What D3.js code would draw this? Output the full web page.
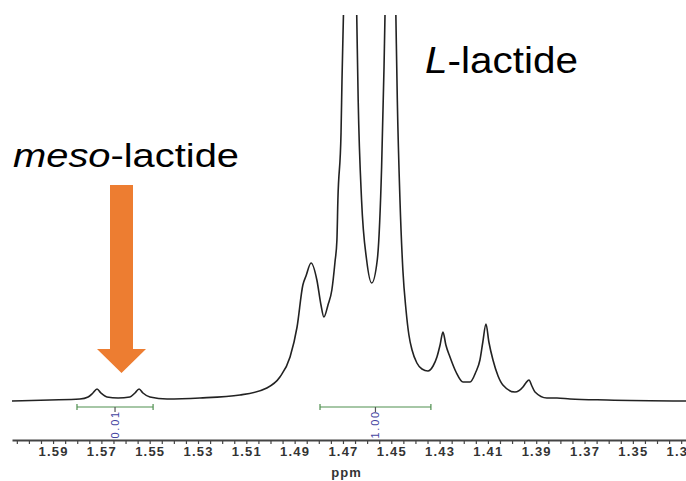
<!DOCTYPE html>
<html>
<head>
<meta charset="utf-8">
<style>
  body { margin: 0; background: #fff; }
  svg text { font-family: Arial, "Liberation Sans", sans-serif; }
</style>
</head>
<body>
<div id="chart"></div>
<script src="https://cdn.jsdelivr.net/npm/d3@7"></script>
<script>
// traced spectrum (chemical shift in ppm, intensity in arbitrary units)
var ppm = [1.6070, 1.5913, 1.5789, 1.5755, 1.5735, 1.5718, 1.5702, 1.5677, 1.5631,
  1.5582, 1.5561, 1.5544, 1.5528, 1.5499, 1.5428, 1.5292, 1.5126, 1.5015, 1.4961,
  1.4919, 1.4890, 1.4866, 1.4853, 1.4832, 1.4808, 1.4791, 1.4779, 1.4762, 1.4746,
  1.4733, 1.4725, 1.4721, 1.4708, 1.4704, 1.4698, 1.4671, 1.4643, 1.4637, 1.4623,
  1.4602, 1.4581, 1.4558, 1.4540, 1.4530, 1.4526, 1.4503, 1.4481, 1.4475, 1.4464,
  1.4452, 1.4439, 1.4427, 1.4414, 1.4394, 1.4373, 1.4348, 1.4327, 1.4311, 1.4298,
  1.4286, 1.4274, 1.4257, 1.4232, 1.4203, 1.4174, 1.4150, 1.4133, 1.4121, 1.4108,
  1.4096, 1.4079, 1.4058, 1.4038, 1.3988, 1.3955, 1.3943, 1.3930, 1.3918, 1.3905,
  1.3856, 1.3814, 1.3760, 1.3607, 1.3280];
var intensity = [0, 1, 2, 4, 8, 12, 8, 4, 3,
  4, 8, 12, 8, 4, 2, 3, 6, 13, 24,
  44, 74, 116, 125, 138, 121, 96, 84, 96, 111,
  139, 161, 201, 268, 321, 386, 720, 386, 301, 201,
  141, 118, 141, 234, 334, 386, 700, 386, 301, 201,
  131, 91, 66, 51, 38, 32, 30, 35, 44, 56,
  69, 56, 44, 29, 19, 19, 29, 41, 59, 77,
  59, 41, 25, 16, 9, 14, 18, 21, 15, 9,
  3, 3, 2, 1, 0];

var tickLabels = ["1.59", "1.57", "1.55", "1.53", "1.51", "1.49", "1.47", "1.45",
  "1.43", "1.41", "1.39", "1.37", "1.35", "1.33"];

// integration regions
var integFrom = [1.5801, 1.4795];
var integTo = [1.5486, 1.4336];
var integValue = ["0.01", "1.00"];

var width = 686, height = 481;

var svg = d3.select("#chart").append("svg")
  .attr("width", width)
  .attr("height", height);

var x = d3.scaleLinear().domain([1.607, 1.328]).range([12, 686]);
var y = d3.scaleLinear().domain([0, 386]).range([401, 15]);

svg.append("clipPath").attr("id", "clip")
  .append("rect")
    .attr("x", 0).attr("y", y(386))
    .attr("width", width).attr("height", height);

var line = d3.line()
  .x(function(d) { return x(ppm[d]); })
  .y(function(d) { return y(intensity[d]); })
  .curve(d3.curveMonotoneX);

svg.append("path")
  .attr("clip-path", "url(#clip)")
  .attr("d", line(d3.range(ppm.length)))
  .attr("fill", "none")
  .attr("stroke", "#222")
  .attr("stroke-width", 1.6);

// x axis
var tickVals = d3.range(1.605, 1.3275, -0.005);
var axis = d3.axisBottom(x)
  .tickValues(tickVals)
  .tickSize(4)
  .tickSizeOuter(0)
  .tickFormat(function(d) {
    var whole = Math.abs(d * 100 - Math.round(d * 100)) < 1e-6;
    return whole && tickLabels.indexOf(d.toFixed(2)) >= 0 ? d.toFixed(2) : "";
  });

var gx = svg.append("g")
  .attr("transform", "translate(0,440)")
  .call(axis);
gx.select(".domain").attr("stroke", "#444").attr("stroke-width", 2);
gx.selectAll(".tick line").attr("stroke", "#444").attr("stroke-width", 1.2);
gx.selectAll(".tick text")
  .attr("y", 7)
  .attr("fill", "#333")
  .style("font-size", "13px")
  .style("font-weight", "bold")
  .style("letter-spacing", "1.2px");

svg.append("text")
  .attr("x", x(1.4685))
  .attr("y", 477)
  .attr("text-anchor", "middle")
  .attr("fill", "#333")
  .style("font-size", "13px")
  .style("font-weight", "bold")
  .style("letter-spacing", "1px")
  .text("ppm");

// integrals
integValue.forEach(function(v, i) {
  var x0 = x(integFrom[i]), x1 = x(integTo[i]), xm = (x0 + x1) / 2;
  var g = svg.append("g").attr("stroke", "#4e8f4e").attr("stroke-width", 1.2);
  g.append("line").attr("x1", x0).attr("x2", x1).attr("y1", 407).attr("y2", 407);
  g.append("line").attr("x1", x0).attr("x2", x0).attr("y1", 404).attr("y2", 410);
  g.append("line").attr("x1", x1).attr("x2", x1).attr("y1", 404).attr("y2", 410);
  g.append("line").attr("x1", xm).attr("x2", xm).attr("y1", 407).attr("y2", 412)
    .attr("stroke", "#555");
  svg.append("text")
    .attr("transform", "translate(" + (xm + 4) + ",410) rotate(-90)")
    .attr("text-anchor", "end")
    .attr("fill", "#4444a0")
    .style("font-size", "11px")
    .style("letter-spacing", "1.8px")
    .text(v);
});

// annotations
var meso = svg.append("text")
  .attr("x", 13).attr("y", 167)
  .attr("textLength", 226)
  .attr("lengthAdjust", "spacingAndGlyphs")
  .attr("fill", "#000")
  .style("font-size", "34px");
meso.append("tspan").style("font-style", "italic").text("meso");
meso.append("tspan").text("-lactide");

var lac = svg.append("text")
  .attr("x", 425).attr("y", 73)
  .attr("textLength", 153)
  .attr("lengthAdjust", "spacingAndGlyphs")
  .attr("fill", "#000")
  .style("font-size", "36px");
lac.append("tspan").style("font-style", "italic").text("L");
lac.append("tspan").text("-lactide");

// arrow pointing at meso peaks
svg.append("path")
  .attr("d", "M110,185 L133,185 L133,349 L146,349 L121.5,373 L97,349 L110,349 Z")
  .attr("fill", "#ed7d31");
</script>
</body>
</html>
